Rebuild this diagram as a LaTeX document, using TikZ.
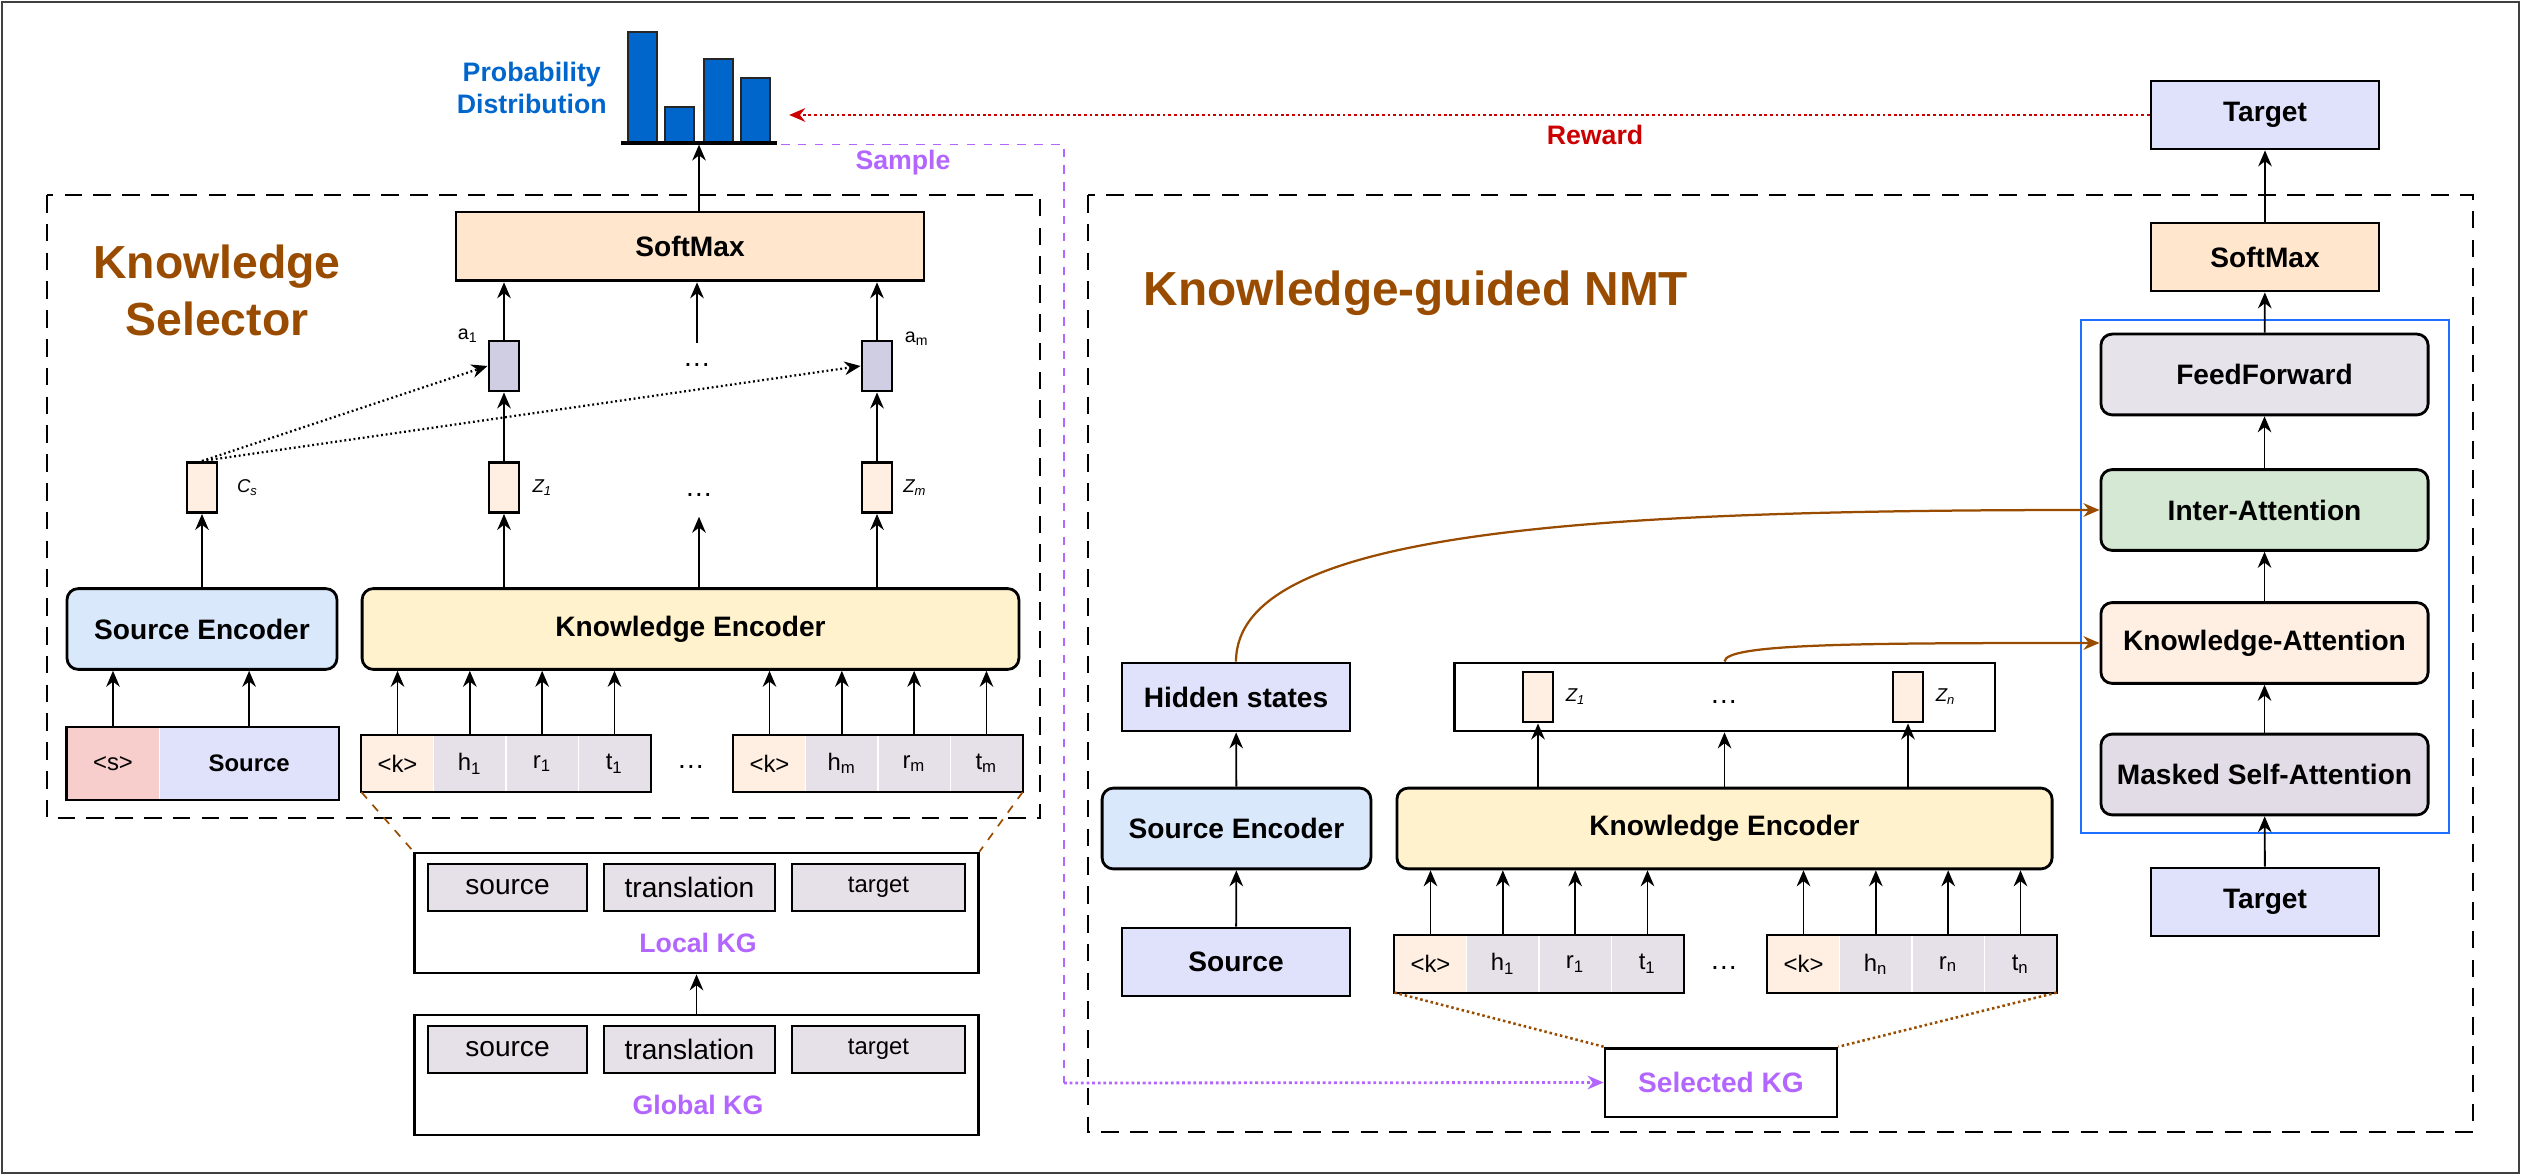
\documentclass[tikz,border=0pt]{standalone}
\usepackage{fontspec}
\setmainfont{Liberation Sans}
\usepackage{tikz}
\usetikzlibrary{arrows.meta,positioning,calc}
\definecolor{ctSoft}{HTML}{FFE6CC}
\definecolor{ctVec}{HTML}{FFEEE2}
\definecolor{ctAtt}{HTML}{D0CEE2}
\definecolor{ctSrcEnc}{HTML}{DAE8FC}
\definecolor{ctKnEnc}{HTML}{FFF2CC}
\definecolor{ctTok}{HTML}{DFE2FA}
\definecolor{ctS}{HTML}{F8CECC}
\definecolor{ctCell}{HTML}{E6E1E8}
\definecolor{ctInter}{HTML}{D5E8D4}
\definecolor{ctFF}{HTML}{E6E4EA}
\definecolor{ctMask}{HTML}{E2DCE7}
\definecolor{ctBrown}{HTML}{994C00}
\definecolor{ctPurple}{HTML}{B266FF}
\definecolor{ctRed}{HTML}{CC0000}
\definecolor{ctBlueTxt}{HTML}{0066CC}
\definecolor{ctBar}{HTML}{0066CC}
\definecolor{ctFrame}{HTML}{1E6FFF}
\newcommand{\fsz}[2]{\fontsize{#1}{#2}\selectfont}

\begin{document}
\begin{tikzpicture}[x=0.125mm,y=-0.125mm,>={Stealth[length=2mm,width=1.7mm]},
  every node/.style={font=\fsz{10}{12}\bfseries},
  blk/.style={draw,line width=1pt,minimum width=28.5mm,minimum height=8.5mm,inner sep=0pt},
  enc/.style={draw,line width=1pt,rounded corners=1.4mm,minimum height=10.1mm,inner sep=0pt},
  vec/.style={draw,line width=0.9pt,fill=ctVec,minimum width=3.8mm,minimum height=6.3mm,inner sep=0pt},
  tok/.style={fill=ctCell,minimum width=8.9mm,minimum height=7mm,inner sep=0pt,font=\fsz{8.5}{10}},
  kgc/.style={draw,line width=0.8pt,fill=ctCell,minimum height=5.9mm,inner sep=0pt,font=\fsz{10}{12}},
  dots/.style={inner sep=0pt,minimum height=5.3mm,font=\fsz{10}{12}},
  lbl/.style={inner sep=1pt,font=\fsz{6.6}{8}\itshape},
  grp/.style={line width=1pt,dash pattern=on 2.2mm off 1.4mm},
  arr/.style={->,line width=0.65pt},
  ttl/.style={text=ctBrown,align=center,font=\fsz{16.5}{20.3}\bfseries}]
  \useasboundingbox (0,0) rectangle (2522,1176);
  \draw[black!75,line width=0.6pt] (2,2) rectangle (2519,1173);
  \draw[grp] (47,195) rectangle (1040,818);
  \draw[grp] (1088,195) rectangle (2473,1132);
  \draw[ctFrame,line width=0.7pt] (2081,320) rectangle (2449,833);

  % probability distribution
  \node[minimum width=20.4mm,minimum height=14mm,inner sep=0pt] (chart) at (699,88) {};
  \foreach \bx/\by in {628/32,665/107,704/59,741/78}
    \filldraw[fill=ctBar,draw=black!85,line width=0.6pt] (\bx,143) rectangle (\bx+29,\by);
  \draw[line width=1.7pt] (621,143) -- (777,143);
  \node[text=ctBlueTxt,align=center,inner sep=0pt,font=\fsz{9.5}{11.7}\bfseries,left=1.2mm of chart] (pdlbl) {Probability\\Distribution};

  % knowledge selector
  \node[ttl] (selttl) at (217,290) {Knowledge\\Selector};
  \node[blk,fill=ctSoft,minimum width=58.5mm,minimum height=8.6mm] (smL) at (690,246.5) {SoftMax};
  \node[vec,fill=ctAtt] (a1) at (504,366) {};
  \node[vec,fill=ctAtt] (am) at (877,366) {};
  \node[dots] (dA) at (697,365) {\ldots};
  \node[vec] (cs) at (202,487.5) {};
  \node[vec] (z1L) at (504,487.5) {};
  \node[vec] (zmL) at (877,487.5) {};
  \node[dots] (dZ) at (699,495) {\ldots};
  \node[enc,fill=ctSrcEnc,minimum width=33.75mm] (seL) at (202,629) {Source Encoder};
  \node[enc,fill=ctKnEnc,minimum width=82.1mm] (keL) at (690.5,629) {Knowledge Encoder};
  \node[lbl,right=1.9mm of cs] (csl) {C\textsubscript{s}};
  \node[lbl,right=1.1mm of z1L] (z1Ll) {Z\textsubscript{1}};
  \node[lbl,right=0.8mm of zmL] (zmLl) {Z\textsubscript{m}};
  \node[inner sep=0pt,font=\fsz{7}{8}] (a1l) at (468,336) {a\textsubscript{1}};
  \node[inner sep=0pt,font=\fsz{7}{8}] (aml) at (917,339) {a\textsubscript{m}};
  \draw[arr] (seL.north) -- (cs.south);
  \draw[arr] (z1L.south |- keL.north) -- (z1L.south);
  \draw[arr] (dZ.south |- keL.north) -- (dZ.south);
  \draw[arr] (zmL.south |- keL.north) -- (zmL.south);
  \draw[arr] (z1L) -- (a1);
  \draw[arr] (zmL) -- (am);
  \draw[arr,densely dotted,line width=0.8pt] (cs.north) -- (a1.west);
  \draw[arr,densely dotted,line width=0.8pt] (cs.north) -- (am.west);
  \draw[arr] (a1.north) -- (a1.north |- smL.south);
  \draw[arr] (dA.north) -- (dA.north |- smL.south);
  \draw[arr] (am.north) -- (am.north |- smL.south);
  \draw[arr] (smL.north -| chart.south) -- (chart.south);

  \node[tok,fill=ctS,minimum width=11.5mm,minimum height=8.9mm] (sTok) at (113,763.5) {<s>};
  \node[tok,fill=ctTok,minimum width=22.25mm,minimum height=8.9mm,right=0pt of sTok,font=\fsz{8.5}{10}\bfseries] (srcL) {Source};
  \draw[line width=0.8pt] (sTok.north west) rectangle (srcL.south east);
  \draw[arr] (sTok.north) -- (sTok.north |- seL.south);
  \draw[arr] (srcL.north) -- (srcL.north |- seL.south);
  \node[dots] (dTL) at (691,767) {\ldots};

  % knowledge-guided NMT
  \node[ttl,font=\fsz{17}{20}\bfseries] (nmtttl) at (1416,293) {Knowledge-guided NMT};
  \node[blk,fill=ctTok] (tgtT) at (2265,115) {Target};
  \node[blk,fill=ctSoft] (smR) at (2265,257) {SoftMax};
  \node[enc,fill=ctFF,minimum width=40.9mm] (ff) at (2264.5,374.5) {FeedForward};
  \node[enc,fill=ctInter,minimum width=40.9mm] (inter) at (2264.5,510) {Inter-Attention};
  \node[enc,fill=ctVec,minimum width=40.9mm] (katt) at (2264.5,643) {Knowledge-Attention};
  \node[enc,fill=ctMask,minimum width=40.9mm] (msa) at (2264.5,774.5) {Masked Self-Attention};
  \node[blk,fill=ctTok] (tgtB) at (2265,902) {Target};
  \foreach \na/\nb in {tgtB/msa,msa/katt,katt/inter,inter/ff,ff/smR,smR/tgtT}
    \draw[arr] (\na) -- (\nb);

  \node[blk,fill=ctTok] (hid) at (1236,697) {Hidden states};
  \node[draw,line width=1pt,minimum width=67.6mm,minimum height=8.5mm] (zc) at (1724.5,697) {};
  \node[vec] (z1R) at (1538,697) {};
  \node[vec] (znR) at (1908,697) {};
  \node[dots] (dZR) at (1724,702) {\ldots};
  \node[lbl,right=1mm of z1R] (z1Rl) {Z\textsubscript{1}};
  \node[lbl,right=1mm of znR] (znRl) {Z\textsubscript{n}};
  \node[enc,fill=ctSrcEnc,minimum width=33.6mm] (seR) at (1236.5,828.5) {Source Encoder};
  \node[enc,fill=ctKnEnc,minimum width=81.9mm] (keR) at (1724.5,828.5) {Knowledge Encoder};
  \node[blk,fill=ctTok] (srcR) at (1236,962) {Source};
  \draw[arr] (srcR) -- (seR);
  \draw[arr] (seR) -- (hid);
  \draw[arr] (z1R.south |- keR.north) -- (z1R.south);
  \draw[arr] (keR.north) -- (zc.south);
  \draw[arr] (znR.south |- keR.north) -- (znR.south);
  \draw[->,ctBrown,line width=0.8pt] (hid.north) .. controls +(0,-130) and +(-520,0) .. (inter.west);
  \draw[->,ctBrown,line width=0.8pt] (zc.north) .. controls +(0,-18) and +(-240,0) .. (katt.west);

  % knowledge tuples
  \foreach \g/\gx/\gy/\ix/\encn in {L1/362/763.5/1/keL,L2/734/763.5/m/keL,R1/1395/964/1/keR,R2/1768/964/n/keR}{
    \node[tok,fill=ctVec] (k\g) at (\gx+35.5,\gy) {<k>};
    \node[tok,right=0pt of k\g] (h\g) {h\textsubscript{\ix}};
    \node[tok,right=0pt of h\g] (r\g) {r\textsubscript{\ix}};
    \node[tok,right=0pt of r\g] (t\g) {t\textsubscript{\ix}};
    \draw[line width=0.7pt] (k\g.north west) rectangle (t\g.south east);
    \foreach \cc in {k,h,r,t}
      \draw[arr] (\cc\g.north) -- (\cc\g.north |- \encn.south);
  }
  \node[dots] (dTR) at (1724,968) {\ldots};

  % knowledge graphs
  \foreach \n/\y/\kgname in {lkg/913/Local KG,gkg/1075/Global KG}{
    \node[draw,line width=1pt,minimum width=70.4mm,minimum height=15mm] (\n) at (696.5,\y) {};
    \node[kgc,minimum width=19.9mm] (\n-src) at (507.5,\y-25.5) {source};
    \node[kgc,minimum width=21.4mm] (\n-tra) at (689.5,\y-25.5) {translation};
    \node[kgc,minimum width=21.6mm,font=\fsz{8.5}{10}] (\n-tgt) at (878.5,\y-25.5) {target};
    \node[text=ctPurple,font=\fsz{9.5}{11}\bfseries] (\n-lbl) at (698,\y+30) {\kgname};
  }
  \draw[arr] (gkg) -- (lkg);
  \draw[ctBrown,dashed,line width=0.6pt] (kL1.south west) -- (lkg.north west);
  \draw[ctBrown,dashed,line width=0.6pt] (tL2.south east) -- (lkg.north east);

  \node[blk,text=ctPurple,minimum width=29mm,minimum height=8.6mm] (selkg) at (1721,1082.5) {Selected KG};
  \draw[ctBrown,densely dotted,line width=0.9pt] (kR1.south west) -- (selkg.north west);
  \draw[ctBrown,densely dotted,line width=0.9pt] (tR2.south east) -- (selkg.north east);

  % reward and sample
  \draw[->,ctRed,densely dotted,line width=1pt] (tgtT.west) -- ([xshift=1mm]chart.east |- tgtT.west);
  \node[text=ctRed,font=\fsz{9.5}{11}\bfseries] (rewl) at (1595,135) {Reward};
  \coordinate (smpc) at (1064,1083);
  \draw[ctPurple,dashed,line width=0.6pt] (chart.south east) -| (smpc);
  \draw[->,ctPurple,densely dotted,line width=1pt] (smpc) -- (selkg.west);
  \node[text=ctPurple,font=\fsz{9.5}{11}\bfseries] (smpl) at (903,163) {Sample};
\end{tikzpicture}
\end{document}
